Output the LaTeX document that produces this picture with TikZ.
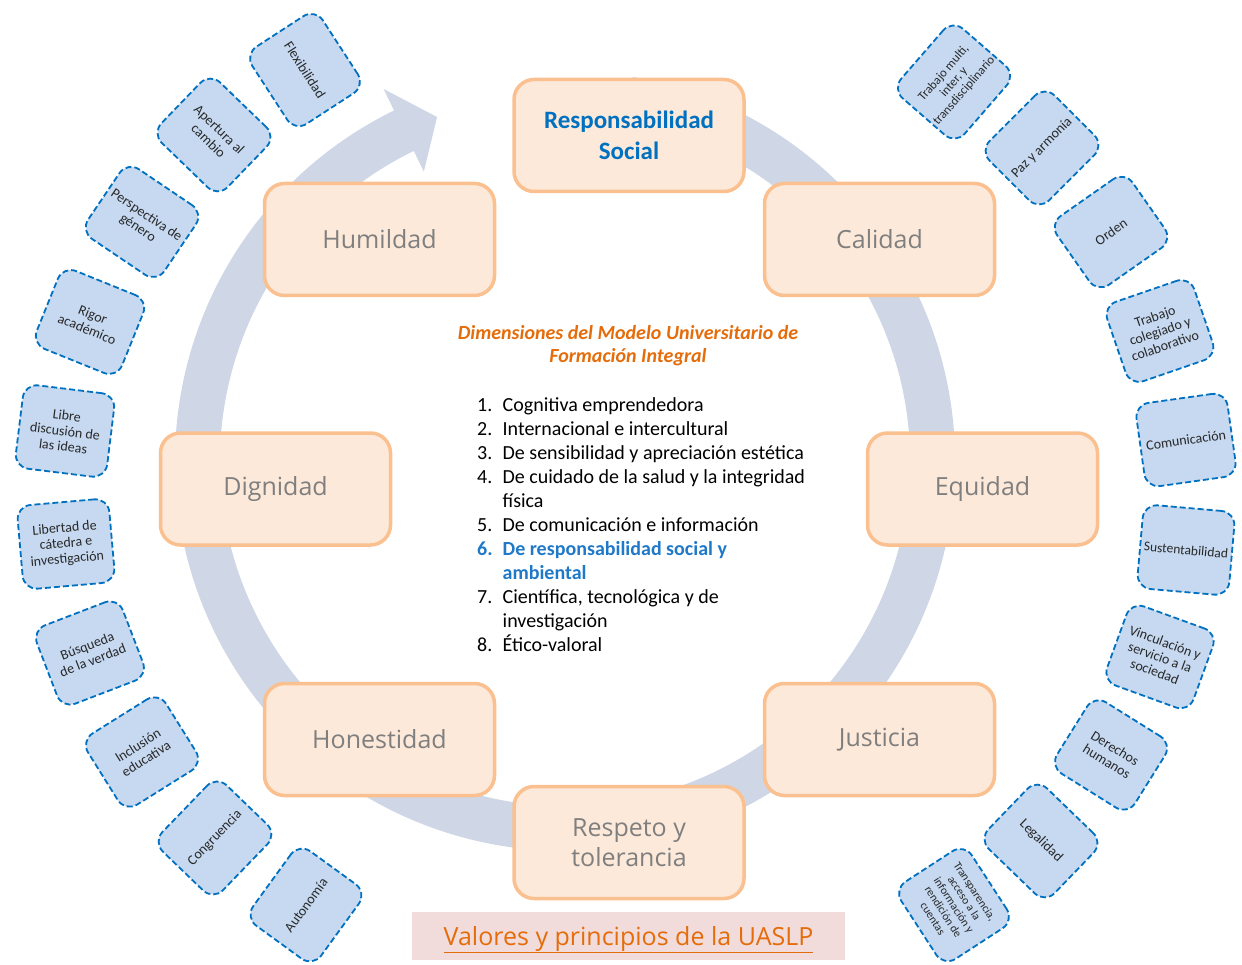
\documentclass[tikz,border=0pt]{standalone}
\usepackage{fontspec}
\setmainfont{Carlito}
\newfontfamily\opensans{Open Sans}
\definecolor{ringblue}{RGB}{207,214,229}
\definecolor{boxfill}{RGB}{253,233,217}
\definecolor{boxline}{RGB}{250,192,144}
\definecolor{valgray}{RGB}{127,127,127}
\definecolor{tagfill}{RGB}{198,217,241}
\definecolor{tagline}{RGB}{0,112,192}
\definecolor{tagtext}{RGB}{40,40,40}
\definecolor{rsblue}{RGB}{0,112,192}
\definecolor{dimorange}{RGB}{228,108,10}
\definecolor{dimblue}{RGB}{31,120,200}
\definecolor{labelpink}{RGB}{242,220,219}
\begin{document}
\begin{tikzpicture}[x=1pt, y=1pt,
  valbox/.style={draw=boxline, fill=boxfill, line width=3.5pt, rounded corners=20pt,
    minimum width=230pt, minimum height=112pt, align=center, text=valgray,
    font=\opensans\fontsize{25}{30}\selectfont},
  tag/.style={draw=tagline, fill=tagfill, line width=1.8pt, dash pattern=on 6pt off 3pt,
    rounded corners=14pt, minimum width=92pt, minimum height=84pt, align=center,
    inner sep=1pt, text=tagtext, font=\fontsize{14}{15.5}\selectfont}]
\useasboundingbox (0,0) rectangle (1242,-965);

% circular arrow
\begin{scope}[shift={(565,-461)}]
\fill[ringblue] (80:390) arc[start angle=80, end angle=-244, radius=390] -- (-244:414) -- (-249.6:367)
  -- (-244:322) -- (-244:345) arc[start angle=-244, end angle=80, radius=345] -- cycle;
\end{scope}

\node (rs) at (629, -135.5) [valbox, text=rsblue, font=\bfseries\fontsize{25}{31}\selectfont] {Responsabilidad\\Social};
\node (hum) at (379.5, -239.5) [valbox] {Humildad};
\node (cal) at (879.5, -239.5) [valbox] {Calidad};
\node (dig) at (275.5, -489) [valbox] {Dignidad};
\node (equ) at (982.5, -489) [valbox] {Equidad};
\node (hon) at (379.5, -739.5) [valbox] {Honestidad};
\node (jus) at (879.5, -739.5) [valbox] {Justicia};
\node (ret) at (629, -842.5) [valbox] {Respeto y\\tolerancia};

% left tags
\node (flex) at (305, -70) [tag, rotate=-57] {Flexibilidad};
\node (apert) at (214, -135) [tag, rotate=-44] {Apertura al\\cambio};
\node (persp) at (142, -222) [tag, rotate=-34] {Perspectiva de\\género};
\node (rigor) at (90, -322) [tag, rotate=-22] {Rigor\\académico};
\node (libre) at (65, -431) [tag, rotate=-7] {Libre\\discusión de\\las ideas};
\node (libert) at (66, -544) [tag, rotate=5] {Libertad de\\cátedra e\\investigación};
\node (busq) at (90, -653) [tag, rotate=21] {Búsqueda\\de la verdad};
\node (incl) at (142, -752) [tag, rotate=32] {Inclusión\\educativa};
\node (congr) at (215, -838) [tag, rotate=46] {Congruencia};
\node (auton) at (306, -905) [tag, rotate=54] {Autonomía};

% right tags
\node (multi) at (954, -82) [tag, rotate=49, font=\fontsize{12.5}{13.5}\selectfont] {Trabajo multi,\\inter, y\\transdisciplinario};
\node (paz) at (1042, -148) [tag, rotate=45] {Paz y armonía};
\node (orden) at (1111, -232) [tag, rotate=35] {Orden};
\node (coleg) at (1160, -331) [tag, rotate=19] {Trabajo\\colegiado y\\colaborativo};
\node (comun) at (1186, -440) [tag, rotate=8] {Comunicación};
\node (sust) at (1186, -550) [tag, rotate=-5, font=\fontsize{13.5}{15}\selectfont] {Sustentabilidad};
\node (vinc) at (1160, -657) [tag, rotate=-20] {Vinculación y\\servicio a la\\sociedad};
\node (derech) at (1111, -755) [tag, rotate=-32] {Derechos\\humanos};
\node (legal) at (1041, -841) [tag, rotate=-44] {Legalidad};
\node (transp) at (954, -905) [tag, rotate=-57, font=\fontsize{11.5}{12.5}\selectfont] {Transparencia,\\acceso a la\\información y\\rendición de\\cuentas};

% dimensions
\node (dimtitle) at (628, -346) [align=center, text=dimorange, font=\bfseries\itshape\fontsize{20}{23}\selectfont]
  {Dimensiones del Modelo Universitario de\\Formación Integral};
\node (dimlist) at (477, -394) [anchor=north west, inner sep=0pt, font=\fontsize{20}{24}\selectfont]
  {\begin{tabular}{@{}l@{\hspace{10pt}}l@{}}
  1. & Cognitiva emprendedora\\
  2. & Internacional e intercultural\\
  3. & De sensibilidad y apreciación estética\\
  4. & De cuidado de la salud y la integridad\\
     & física\\
  5. & De comunicación e información\\
  \textcolor{dimblue}{\bfseries 6.} & \textcolor{dimblue}{\bfseries De responsabilidad social y}\\
     & \textcolor{dimblue}{\bfseries ambiental}\\
  7. & Científica, tecnológica y de\\
     & investigación\\
  8. & Ético-valoral
  \end{tabular}};

\node (uaslp) at (628.5, -936) [fill=labelpink, minimum width=433pt, minimum height=48pt, text=dimorange,
  text height=22pt, text depth=4pt, font=\opensans\fontsize{25}{28}\selectfont] {\underline{Valores y principios de la UASLP}};
\end{tikzpicture}
\end{document}
